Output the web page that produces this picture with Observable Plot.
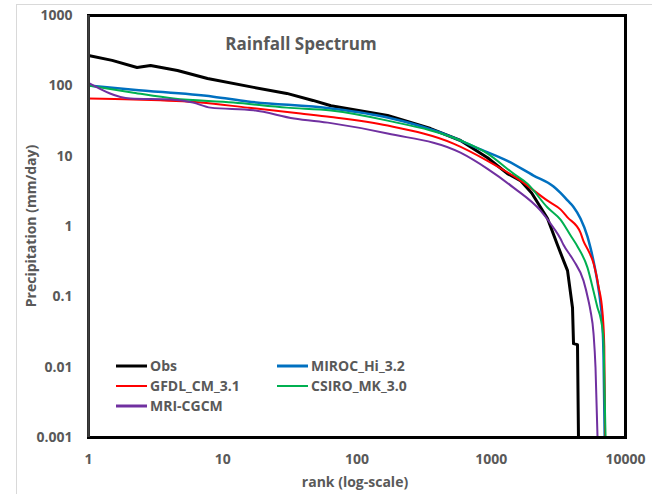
<!DOCTYPE html>
<html><head><meta charset="utf-8">
<script src="https://cdn.jsdelivr.net/npm/d3@7"></script>
<script src="https://cdn.jsdelivr.net/npm/@observablehq/plot@0.6"></script>
<style>body{margin:0;background:#fff;} svg{display:block;}</style>
</head><body><div id="chart"></div>
<script>
// ---- data: [rank, precipitation (mm/day)] ----
const obs = [[1,270],[1.5,230],[2.3,182],[2.9,194],[4.6,165],[7.7,127],[17,95],[30,78],[47,62],[64,52],[169,37.8],[353,24.7],[590,16.7],[938,9.5],[1320,5.65],[1650,4.5],[2000,3.0],[2625,1.3],[3110,0.55],[3450,0.33],[3700,0.236],[4030,0.07],[4100,0.0216],[4390,0.0209],[4465,0.001]];
const miroc = [[1,101],[2.16,88],[8.5,70],[15.3,60],[64,47.5],[169,35.4],[523,18.4],[832,12.5],[1320,8.6],[2065,5.3],[2910,3.7],[3280,3.0],[3700,2.35],[4100,1.9],[4620,1.3],[5210,0.72],[5480,0.5],[5780,0.32],[6190,0.16],[6520,0.08],[6740,0.04],[6860,0.015],[7000,0.001]];
const gfdl = [[1,66],[2.16,64],[6.8,58],[15.3,49],[38,40.4],[64,36],[169,27.2],[523,15.1],[938,8.6],[1650,4.5],[2625,2.33],[3280,1.75],[3700,1.35],[4620,0.82],[4865,0.62],[5300,0.45],[5780,0.3],[6300,0.14],[6740,0.06],[6950,0.02],[7050,0.001]];
const csiro = [[1,101],[2.16,80],[4.3,66],[12,58],[30,49],[64,44.6],[169,32],[590,16.7],[938,10.9],[1465,5.65],[1860,4.07],[2625,1.86],[3280,1.25],[3890,0.75],[4390,0.52],[5210,0.26],[5780,0.12],[6190,0.07],[6520,0.05],[6860,0.024],[6980,0.005],[7100,0.001]];
const mri = [[1,110],[2.05,66],[4.1,64],[6,58],[8.1,49],[17,45],[34,34.3],[64,29.5],[169,21],[590,11.2],[938,6.6],[1465,3.57],[2330,1.68],[2910,0.96],[3280,0.67],[3450,0.55],[4100,0.33],[4865,0.17],[5300,0.088],[5480,0.064],[5780,0.03],[5980,0.0098],[6190,0.001]];

const seriesNames  = ["Obs","MIROC_Hi_3.2","GFDL_CM_3.1","CSIRO_MK_3.0","MRI-CGCM"];
const seriesColors = ["#000000","#0070C0","#FF0000","#00B050","#7030A0"];
const seriesWidths = [3,2.5,2,2,2];
const seriesCurves = ["linear","monotone-x","monotone-x","monotone-x","monotone-x"];
const seriesData   = [obs, miroc, gfdl, csiro, mri];

const xTicks = [1,10,100,1000,10000];
const yTicks = [0.001,0.01,0.1,1,10,100,1000];
const yTickLabels = ["0.001","0.01","0.1","1","10","100","1000"];

const titleText = "Rainfall Spectrum";
const xLabel = "rank (log-scale)";
const yLabel = "Precipitation (mm/day)";

const font = "'Open Sans', sans-serif";
const gray = "#595959";

const lineMarks = seriesData.map((d, i) =>
  Plot.line(d, {x: p => p[0], y: p => p[1], stroke: seriesColors[i], strokeWidth: seriesWidths[i], curve: seriesCurves[i], clip: true})
);

const chart = Plot.plot({
  width: 652, height: 494,
  marginLeft: 88, marginRight: 27, marginTop: 15, marginBottom: 57,
  style: {fontFamily: font, fontSize: "14px", fontWeight: "bold", color: gray, background: "white"},
  x: {type: "log", domain: [1, 10000], ticks: xTicks, tickFormat: d => String(d), tickSize: 0, tickPadding: 17, label: null},
  y: {type: "log", domain: [0.001, 1000], ticks: yTicks, tickFormat: d => yTickLabels[yTicks.indexOf(d)] ?? String(d), tickSize: 0, tickPadding: 16, label: null},
  marks: [
    ...lineMarks,
    Plot.frame({stroke: "black", strokeWidth: 3}),
    Plot.ruleX([1], {stroke: "#404040", strokeWidth: 2.5})
  ]
});
document.getElementById("chart").appendChild(chart);

const svg = d3.select(chart);
// outer light border
svg.insert("rect", ":first-child")
  .attr("x", 16.5).attr("y", 4.5).attr("width", 700).attr("height", 600)
  .attr("fill", "none").attr("stroke", "#d9d9d9");
svg.insert("rect", ":first-child").attr("width", 652).attr("height", 494).attr("fill", "white");

// title
svg.append("text").attr("x", 301).attr("y", 44).attr("dy", "0.35em")
  .attr("text-anchor", "middle").attr("fill", gray)
  .style("font", `bold 17px ${font}`).text(titleText);
// axis labels
svg.append("text").attr("x", 355).attr("y", 482).attr("dy", "0.35em")
  .attr("text-anchor", "middle").attr("fill", gray)
  .style("font", `bold 14px ${font}`).text(xLabel);
svg.append("text").attr("transform", "translate(31,226) rotate(-90)").attr("dy", "0.35em")
  .attr("text-anchor", "middle").attr("fill", gray)
  .style("font", `bold 14px ${font}`).text(yLabel);

// legend (row-major, 2 columns)
const legX = [116, 277], legY = [366, 386, 406];
const legendWidths = [3, 3, 2, 2, 3];
seriesNames.forEach((name, i) => {
  const col = i % 2, row = Math.floor(i / 2);
  const g = svg.append("g").attr("transform", `translate(${legX[col]},${legY[row]})`);
  g.append("line").attr("x1", 0).attr("x2", 31).attr("y1", 0).attr("y2", 0)
    .attr("stroke", seriesColors[i]).attr("stroke-width", legendWidths[i]);
  g.append("text").attr("x", 34).attr("dy", "0.35em").attr("fill", gray)
    .attr("text-anchor", "start")
    .style("font", `bold 14px ${font}`).text(name);
});
</script>
</body></html>
